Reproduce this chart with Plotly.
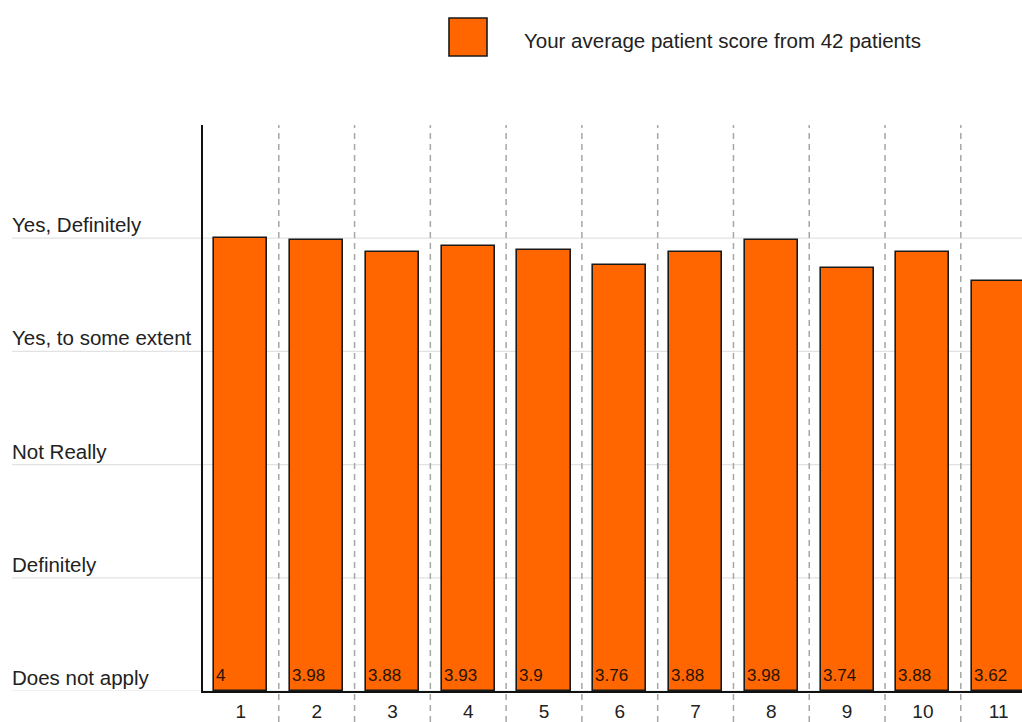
import plotly.graph_objects as go

# Survey questions (x), average patient scores (y) and the answer scale labels
questions = [1, 2, 3, 4, 5, 6, 7, 8, 9, 10, 11]
scores = [4, 3.98, 3.88, 3.93, 3.9, 3.76, 3.88, 3.98, 3.74, 3.88, 3.62]
scale_values = [0, 1, 2, 3, 4]
scale_labels = ["Does not apply", "Definitely", "Not Really",
                "Yes, to some extent", "Yes, Definitely"]
series_name = "Your average patient score from 42 patients"

FONT = "Liberation Sans, Arial, sans-serif"
BAR_COLOR = "#FF6600"
BAR_EDGE = "#1a1a1a"
BAR_WIDTH = 0.7

W, H = 1022, 722
ML, MR, MT, MB = 12, 0, 125, 31
plot_w = W - ML - MR
plot_h = H - MT - MB
axis_left_px = 203  # page x of the y axis line


def px_x(px):
    return (px - ML) / plot_w


def px_y(py):
    return (H - MB - py) / plot_h


fig = go.Figure()
fig.add_trace(go.Bar(
    x=questions,
    y=scores,
    width=BAR_WIDTH,
    name=series_name,
    marker=dict(color=BAR_COLOR, line=dict(color=BAR_EDGE, width=1.6)),
    showlegend=False,
    hovertemplate="Q%{x}: %{y}<extra></extra>",
))

shapes = []
annotations = []

# Horizontal scale lines running under the labels across the whole width
for v in scale_values:
    shapes.append(dict(type="line", xref="paper", yref="y",
                       x0=0, x1=1, y0=v, y1=v,
                       line=dict(color="#e2e2e2", width=1.2), layer="below"))

# Dashed separators between questions, running down past the axis
for q in questions[:-1]:
    shapes.append(dict(type="line", xref="x", yref="paper",
                       x0=q + 0.5, x1=q + 0.5, y0=-MB / plot_h, y1=1,
                       line=dict(color="#a6a6a6", width=1.5, dash="6px,5px"),
                       layer="below"))

# Scale labels sitting just above each line
for v, lab in zip(scale_values, scale_labels):
    annotations.append(dict(xref="paper", yref="y", x=0, y=v,
                            text=lab, showarrow=False,
                            xanchor="left", yanchor="bottom",
                            xshift=-2, yshift=0,
                            font=dict(family=FONT, size=20.5, color="#222222")))

# Score labels at the foot of each bar, left aligned
for q, s in zip(questions, scores):
    annotations.append(dict(xref="x", yref="y", x=q - BAR_WIDTH / 2, y=0,
                            text=f"{s:g}", showarrow=False,
                            xanchor="left", yanchor="bottom",
                            xshift=0, yshift=4,
                            font=dict(family=FONT, size=17, color="#2a1200")))

# Legend: swatch and series name
shapes.append(dict(type="rect", xref="paper", yref="paper",
                   x0=px_x(449), x1=px_x(487), y0=px_y(56), y1=px_y(18),
                   fillcolor=BAR_COLOR, line=dict(color=BAR_EDGE, width=1.6)))
annotations.append(dict(xref="paper", yref="paper", x=px_x(522), y=px_y(40),
                        text=series_name, showarrow=False,
                        xanchor="left", yanchor="middle",
                        font=dict(family=FONT, size=20.5, color="#222222")))

fig.update_layout(
    width=W, height=H, autosize=False,
    margin=dict(l=ML, r=MR, t=MT, b=MB, autoexpand=False),
    paper_bgcolor="white", plot_bgcolor="white",
    font=dict(family=FONT, color="#222222"),
    bargap=0,
    shapes=shapes,
    annotations=annotations,
    xaxis=dict(
        domain=[px_x(axis_left_px), 1],
        range=[0.5, 0.5 + (W - axis_left_px) / 75.78],
        tickvals=questions,
        ticktext=[str(q) for q in questions],
        tickfont=dict(family=FONT, size=19, color="#222222"),
        ticks="", ticklabelstandoff=2,
        automargin=False,
        showgrid=False, zeroline=False,
        showline=True, linecolor="#111111", linewidth=1.6,
    ),
    yaxis=dict(
        range=[0, 5],
        showticklabels=False, ticks="",
        automargin=False,
        showgrid=False, zeroline=False,
        showline=True, linecolor="#111111", linewidth=1.6,
    ),
)

fig.write_html("out.html")
